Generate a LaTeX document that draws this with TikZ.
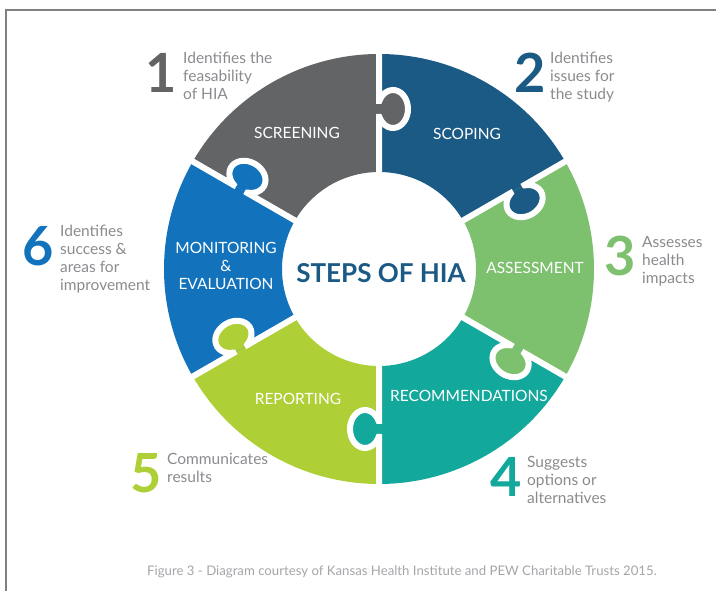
\documentclass[tikz,border=0pt]{standalone}
\usepackage{fontspec}
\setmainfont{Lato}
\usetikzlibrary{positioning}
\definecolor{screen}{HTML}{636466}
\definecolor{scope}{HTML}{1A5A84}
\definecolor{assess}{HTML}{7DC06E}
\definecolor{recomm}{HTML}{13A89C}
\definecolor{report}{HTML}{AFCF37}
\definecolor{monitor}{HTML}{1273BC}
\definecolor{desc}{HTML}{898B8E}
\definecolor{capt}{HTML}{A3A5A8}
\definecolor{frame}{HTML}{808080}

\begin{document}
\begin{tikzpicture}[x=1pt,y=1pt,
	piece/.style={text=white,font=\fontsize{15.5}{18}\selectfont,align=center},
	num/.style={font=\fontsize{54}{54}\selectfont\bfseries,inner sep=0pt},
	note/.style={text=desc,font=\fontsize{15.5}{18}\selectfont,align=left,
		inner sep=0pt,anchor=base west}]
	\useasboundingbox (0,0) rectangle (716,591);
	\draw[frame,line width=1.5pt] (6,0) -- (6,581) -- (716,581);
	
	\begin{scope}[shift={(379,322)}]
		\foreach \a/\c in {90/screen,30/scope,-30/assess,-90/recomm,-150/report,150/monitor}
			\fill[\c] (\a:97) -- (\a:215) arc[start angle=\a,end angle=\a+60,radius=215]
				-- (\a+60:97) arc[start angle=\a+60,end angle=\a,radius=97] -- cycle;
		\foreach \a/\c in {90/screen,30/scope,-30/assess,-90/recomm,-150/report,150/monitor}{
			\begin{scope}[rotate=\a]
				\fill[\c] (152,0) -- (152,-0.4)
					arc[start angle=114.9,end angle=425.1,x radius=19,y radius=15] -- (168,0) -- cycle;
				\draw[white,line width=6pt] (90,0) -- (152,0) -- (152,-0.4)
					arc[start angle=114.9,end angle=425.1,x radius=19,y radius=15]
					-- (168,0) -- (222,0);
			\end{scope}
		}
	\end{scope}
	
	\node[piece] (screening) at (297,458) {SCREENING};
	\node[piece] (scoping) at (467,457) {SCOPING};
	\node[piece] (assessment) at (535,323) {ASSESSMENT};
	\node[piece] (recommendations) at (469,195) {RECOMMENDATIONS};
	\node[piece] (reporting) at (298,192) {REPORTING};
	\node[piece] (monitoring) at (226,325) {MONITORING\\\&\\EVALUATION};
	\node[text=scope,font=\fontsize{26}{26}\selectfont\bfseries] (title) at (381,318) {STEPS OF HIA};
	
	\node[num,text=screen] (n1) at (161,518.5) {1};
	\node[note] (t1) at (183,491) {Identifies the\\feasability\\of HIA};
	\node[num,text=scope] (n2) at (530,518.5) {2};
	\node[note] (t2) at (550,491) {Identifies\\issues for\\the study};
	\node[num,text=assess] (n3) at (620,335) {3};
	\node[note] (t3) at (642,307) {Assesses\\health\\impacts};
	\node[num,text=recomm] (n4) at (506,114) {4};
	\node[note] (t4) at (527,87) {Suggests\\options or\\alternatives};
	\node[num,text=report] (n5) at (146,118) {5};
	\node[note] (t5) at (167,108) {Communicates\\results};
	\node[num,text=monitor] (n6) at (38,345) {6};
	\node[note] (t6) at (60,300) {Identifies\\success \&\\areas for\\improvement};
	
	\node[text=capt,font=\fontsize{13.2}{15}\selectfont] (caption) at (402,19)
		{Figure 3 - Diagram courtesy of Kansas Health Institute and PEW Charitable Trusts 2015.};
\end{tikzpicture}
\end{document}
